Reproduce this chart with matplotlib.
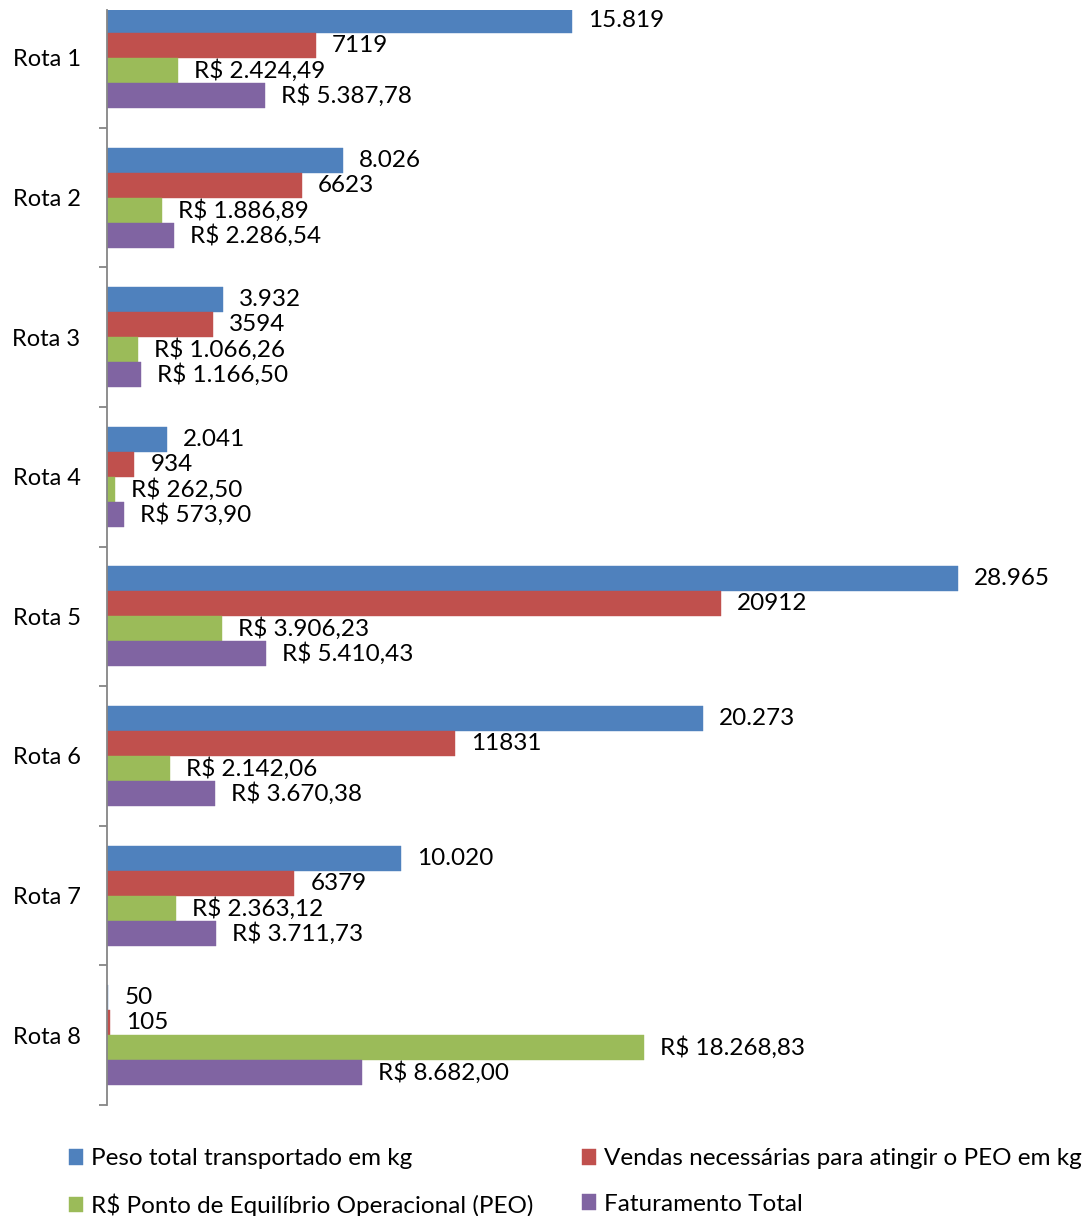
import numpy as np
import matplotlib.pyplot as plt

# Data
rotas = ["Rota 1", "Rota 2", "Rota 3", "Rota 4", "Rota 5", "Rota 6", "Rota 7", "Rota 8"]
peso_total = [15819, 8026, 3932, 2041, 28965, 20273, 10020, 50]
vendas_peo = [7119, 6623, 3594, 934, 20912, 11831, 6379, 105]
peo_reais = [2424.49, 1886.89, 1066.26, 262.50, 3906.23, 2142.06, 2363.12, 18268.83]
faturamento = [5387.78, 2286.54, 1166.50, 573.90, 5410.43, 3670.38, 3711.73, 8682.00]

series_names = ["Peso total transportado em kg",
                "Vendas necessárias para atingir o PEO em kg",
                "R$ Ponto de Equilíbrio Operacional (PEO)",
                "Faturamento Total"]
colors = ["#4F81BD", "#C0504D", "#9BBB59", "#8064A2"]


def fmt_int_dot(v):
    return f"{v:,.0f}".replace(",", ".")


def fmt_plain(v):
    return f"{v:.0f}"


def fmt_reais(v):
    s = f"{v:,.2f}".replace(",", "X").replace(".", ",").replace("X", ".")
    return "R$ " + s


plt.rcParams['font.family'] = ['Lato', 'DejaVu Sans']

fig = plt.figure(figsize=(10.89, 12.16), dpi=100)
# axes from y=10px to y=1105px; the top group is partly cut off, as in the original
ax = fig.add_axes([107 / 1089, 1 - 1105 / 1216, (1080 - 107) / 1089, (1105 - 10) / 1216])

all_series = [peso_total, vendas_peo, peo_reais, faturamento]
formatters = [fmt_int_dot, fmt_plain, fmt_reais, fmt_reais]

y = np.arange(len(rotas))
h = 0.179
handles = []
for k, (vals, col, fmt) in enumerate(zip(all_series, colors, formatters)):
    pos = y - 1.5 * h + k * h
    bars = ax.barh(pos, vals, height=h, color=col, label=series_names[k],
                   edgecolor=col, linewidth=0.3)
    handles.append(bars)
    ax.bar_label(bars, labels=[fmt(v) for v in vals], padding=11.5,
                 fontsize=17.5, color="black", clip_on=False)

ax.set_xlim(0, 33118)
ax.set_ylim(len(rotas) - 0.5, len(rotas) - 0.5 - 1095 / 139.6)

ax.set_yticks(y)
ax.set_yticklabels(rotas, fontsize=17)
ax.tick_params(axis="y", which="major", length=0, pad=19)
ax.set_yticks(np.arange(0.5, len(rotas), 1), minor=True)
ax.tick_params(axis="y", which="minor", length=6, color="#868686", width=1.3)

ax.set_xticks([])
for s in ["top", "right", "bottom"]:
    ax.spines[s].set_visible(False)
ax.spines["left"].set_color("#868686")
ax.spines["left"].set_linewidth(1.3)

order = [0, 2, 1, 3]
fig.legend([handles[i] for i in order], [series_names[i] for i in order],
           ncol=2, loc="lower left", bbox_to_anchor=(0.043, -0.019),
           frameon=False, fontsize=17.5, handlelength=0.6, handleheight=0.6,
           handletextpad=0.33, columnspacing=1.97, labelspacing=1.0)

fig.savefig("out.png", dpi=100)
